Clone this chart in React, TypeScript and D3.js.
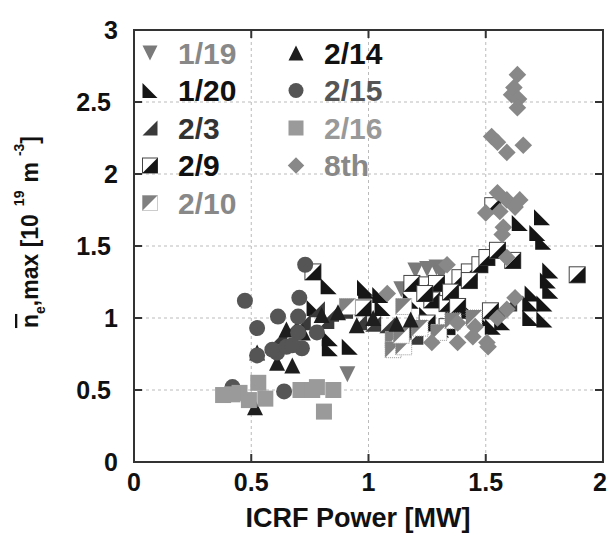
import React from 'react';
import * as d3 from 'd3';

const W = 607;
const H = 539;
const margin = { top: 30, right: 4, bottom: 77, left: 134 };

const xTicks = [0, 0.5, 1, 1.5, 2];
const yTicks = [0, 0.5, 1, 1.5, 2, 2.5, 3];
const xTickLabels = ['0', '0.5', '1', '1.5', '2'];
const yTickLabels = ['0', '0.5', '1', '1.5', '2', '2.5', '3'];

// [power MW, density 1e19 m^-3]
const s0119 = [[0.91, 0.61], [1.2, 1.33], [1.25, 1.34], [1.29, 1.35], [0.92, 1.07], [1.14, 1.2], [1.31, 1.31]];
const s0120 = [
  [0.83, 1.22], [0.985, 1.21], [0.77, 1.07], [0.835, 0.86], [0.92, 0.8], [0.835, 0.79], [0.99, 1.19],
  [1.05, 1.16], [1.06, 1.07], [1.31, 0.92], [1.74, 1.7], [1.72, 1.59], [1.745, 1.53], [1.645, 1.66],
  [1.775, 1.33], [1.765, 1.26], [1.775, 1.19], [1.7, 1.17], [1.75, 1.1], [1.69, 1.1], [1.69, 1.0],
  [1.75, 0.99], [1.18, 1.12], [1.25, 1.02], [1.36, 1.08], [1.43, 1.05], [1.48, 1.0], [1.53, 0.94], [1.57, 0.97],
];
const s0203 = [
  [0.67, 0.93], [0.72, 0.97], [0.78, 1.06], [0.84, 1.03], [0.9, 1.05], [0.82, 0.98], [0.62, 0.87],
  [0.96, 0.97], [1.02, 0.96], [1.08, 0.95], [1.15, 0.9], [1.2, 0.87], [1.55, 1.05], [1.6, 1.1],
];
const s0209 = [
  [0.763, 1.32], [0.977, 1.07], [1.185, 1.24], [1.25, 1.23], [1.29, 1.24], [1.39, 1.28], [1.43, 1.32],
  [1.475, 1.37], [1.505, 1.42], [1.27, 1.125], [1.335, 1.1], [1.35, 1.18], [1.25, 0.965], [1.335, 0.94],
  [1.53, 1.78], [1.55, 1.47], [1.615, 1.4], [1.89, 1.3], [1.43, 1.26], [1.24, 1.17], [1.38, 1.08], [1.52, 1.05],
];
const s0210 = [
  [1.15, 1.08], [1.105, 0.85], [1.105, 0.78], [0.91, 1.08], [1.15, 0.8], [1.14, 0.88], [1.22, 0.93],
  [1.3, 0.9], [1.36, 0.98], [1.45, 1.0],
];
const s0214 = [
  [0.525, 0.76], [0.61, 0.69], [0.675, 0.67], [0.516, 0.38], [0.65, 0.92], [0.72, 0.9], [1.02, 1.0],
  [0.8, 1.02], [0.87, 1.04], [0.95, 0.95], [1.12, 0.96], [1.18, 0.99],
];
const s0215 = [
  [0.73, 1.37], [0.473, 1.12], [0.705, 1.14], [0.614, 1.01], [0.7, 1.01], [0.525, 0.93], [0.525, 0.74],
  [0.61, 0.76], [0.59, 0.78], [0.65, 0.8], [0.716, 0.79], [0.7, 0.9], [0.78, 0.9], [0.42, 0.52],
  [0.64, 0.49], [0.675, 0.81],
];
const s0216 = [
  [0.38, 0.465], [0.45, 0.48], [0.53, 0.55], [0.56, 0.44], [0.49, 0.43], [0.71, 0.5], [0.76, 0.5],
  [0.85, 0.5], [0.81, 0.35], [0.78, 0.52], [0.42, 0.47],
];
const s8th = [
  [1.635, 2.69], [1.62, 2.6], [1.61, 2.55], [1.64, 2.52], [1.635, 2.46], [1.525, 2.26], [1.55, 2.22],
  [1.59, 2.15], [1.66, 2.2], [1.55, 1.87], [1.59, 1.82], [1.625, 1.77], [1.5, 1.73], [1.56, 1.74],
  [1.575, 1.63], [1.57, 1.58], [1.645, 1.82], [1.59, 1.42], [1.625, 1.14], [1.335, 1.37], [1.08, 1.17],
  [1.38, 0.965], [1.455, 0.94], [1.38, 0.83], [1.445, 0.87], [1.505, 0.83], [1.55, 1.0], [1.59, 1.06],
  [1.51, 0.8], [1.27, 0.83],
];

const seriesList = [
  { name: '1/19', shape: 'down', color: '#7a7a7a', text: '#888', data: s0119, col: 0, row: 0 },
  { name: '1/20', shape: 'bl', color: '#151515', text: '#111', data: s0120, col: 0, row: 1 },
  { name: '2/3', shape: 'br', color: '#3a3a3a', text: '#333', data: s0203, col: 0, row: 2 },
  { name: '2/9', shape: 'sqbr', color: '#151515', text: '#111', data: s0209, col: 0, row: 3 },
  { name: '2/10', shape: 'sqtl', color: '#808080', text: '#888', data: s0210, col: 0, row: 4 },
  { name: '2/14', shape: 'up', color: '#1e1e1e', text: '#111', data: s0214, col: 1, row: 0 },
  { name: '2/15', shape: 'circle', color: '#555', text: '#555', data: s0215, col: 1, row: 1 },
  { name: '2/16', shape: 'square', color: '#9a9a9a', text: '#999', data: s0216, col: 1, row: 2 },
  { name: '8th', shape: 'diamond', color: '#888', text: '#888', data: s8th, col: 1, row: 3 },
];

const Marker = ({ shape, x, y, h, color }: any) => {
  switch (shape) {
    case 'down':
      return <path d={`M${x - h},${y - h}L${x + h},${y - h}L${x},${y + h}Z`} fill={color} />;
    case 'up':
      return <path d={`M${x - h},${y + h}L${x + h},${y + h}L${x},${y - h}Z`} fill={color} />;
    case 'bl':
      return <path d={`M${x - h},${y - h}L${x - h},${y + h}L${x + h},${y + h}Z`} fill={color} />;
    case 'br':
      return <path d={`M${x + h},${y - h}L${x + h},${y + h}L${x - h},${y + h}Z`} fill={color} />;
    case 'sqbr':
      return (
        <g>
          <rect x={x - h} y={y - h} width={2 * h} height={2 * h} fill="#fff" stroke="#444" strokeWidth={1} />
          <path d={`M${x + h},${y - h}L${x + h},${y + h}L${x - h},${y + h}Z`} fill={color} />
        </g>
      );
    case 'sqtl':
      return (
        <g>
          <rect x={x - h} y={y - h} width={2 * h} height={2 * h} fill="#fff" stroke="#999" strokeWidth={1} strokeDasharray="1,1" />
          <path d={`M${x - h},${y - h}L${x + h},${y - h}L${x - h},${y + h}Z`} fill={color} />
        </g>
      );
    case 'circle':
      return <circle cx={x} cy={y} r={h} fill={color} />;
    case 'square':
      return <rect x={x - h} y={y - h} width={2 * h} height={2 * h} fill={color} />;
    case 'diamond': {
      const d = h * 1.1;
      return <path d={`M${x},${y - d}L${x + d},${y}L${x},${y + d}L${x - d},${y}Z`} fill={color} />;
    }
    default:
      return null;
  }
};

export default function App() {
  const x = d3.scaleLinear().domain([0, 2]).range([margin.left, W - margin.right]);
  const y = d3.scaleLinear().domain([0, 3]).range([H - margin.bottom, margin.top]);
  const [x0, x1] = x.range();
  const [y0, y1] = y.range();
  const font = "'Liberation Sans', Arial, sans-serif";

  return (
    <>
      <style>{`body{margin:0}`}</style>
      <svg width={W} height={H} style={{ display: 'block', background: '#fff' }} fontFamily={font} fontWeight="bold">
        {/* grid */}
        {xTicks.slice(1, -1).map(t => (
          <line key={'gx' + t} x1={x(t)} x2={x(t)} y1={y1} y2={y0} stroke="#bbb" strokeDasharray="3,3" />
        ))}
        {yTicks.slice(1, -1).map(t => (
          <line key={'gy' + t} x1={x0} x2={x1} y1={y(t)} y2={y(t)} stroke="#bbb" strokeDasharray="3,3" />
        ))}

        {/* points */}
        {seriesList.map(s => (
          <g key={s.name}>
            {s.data.map((d, i) => (
              <Marker key={i} shape={s.shape} x={x(d[0])} y={y(d[1])} h={8} color={s.color} />
            ))}
          </g>
        ))}

        {/* frame and ticks */}
        <rect x={x0} y={y1} width={x1 - x0} height={y0 - y1} fill="none" stroke="#333" strokeWidth={2} />
        {xTicks.slice(1, -1).map(t => (
          <g key={'tx' + t} stroke="#333" strokeWidth={2}>
            <line x1={x(t)} x2={x(t)} y1={y0} y2={y0 - 8} />
            <line x1={x(t)} x2={x(t)} y1={y1} y2={y1 + 8} />
          </g>
        ))}
        {yTicks.slice(1, -1).map(t => (
          <g key={'ty' + t} stroke="#333" strokeWidth={2}>
            <line x1={x0} x2={x0 + 8} y1={y(t)} y2={y(t)} />
            <line x1={x1} x2={x1 - 8} y1={y(t)} y2={y(t)} />
          </g>
        ))}

        {/* tick labels */}
        {xTicks.map((t, i) => (
          <text key={'lx' + t} x={Math.min(x(t), W - 7)} y={491} fontSize={25} textAnchor="middle" fill="#111">
            {xTickLabels[i]}
          </text>
        ))}
        {yTicks.map((t, i) => (
          <text key={'ly' + t} x={Number.isInteger(t) ? 118 : 111} y={y(t)} dy="0.34em" fontSize={25} textAnchor="end" fill="#111">
            {yTickLabels[i]}
          </text>
        ))}

        {/* axis titles */}
        <text x={358} y={527} fontSize={27} textAnchor="middle" fill="#111">ICRF Power [MW]</text>
        <text transform={`translate(38,232) rotate(-90)`} fontSize={23} textAnchor="middle" fill="#111">
          <tspan style={{ textDecoration: 'overline' }}>n</tspan>
          <tspan fontSize={14} dy={7}>e</tspan>
          <tspan dy={-7}>,max [10</tspan>
          <tspan fontSize={14} dx={8} dy={-14}>19</tspan>
          <tspan dx={8} dy={14}>m</tspan>
          <tspan fontSize={14} dx={6} dy={-14}>-3</tspan>
          <tspan dy={14}>]</tspan>
        </text>

        {/* legend */}
        {seriesList.map(s => {
          const mx = s.col === 0 ? 150 : 296;
          const my = 53 + s.row * 37.5;
          return (
            <g key={'lg' + s.name}>
              <Marker shape={s.shape} x={mx} y={my} h={7.5} color={s.color} />
              <text x={mx + 28} y={my} dy="0.36em" fontSize={30} fill={s.text}>{s.name}</text>
            </g>
          );
        })}
      </svg>
    </>
  );
}
